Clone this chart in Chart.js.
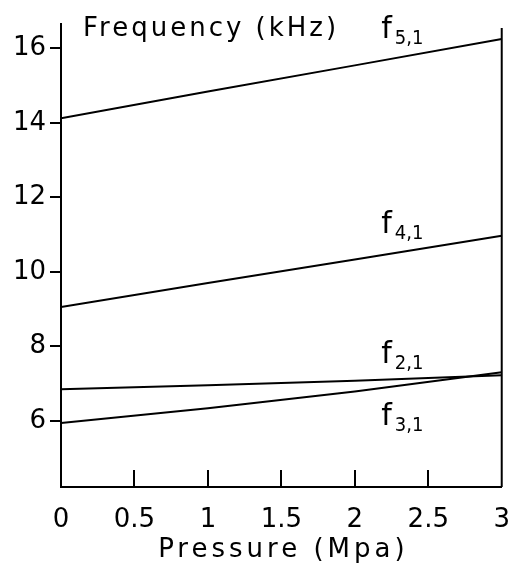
<!DOCTYPE html>
<html>
<head>
<meta charset="utf-8">
<script src="https://cdn.jsdelivr.net/npm/chart.js@4"></script>
<style>
  html, body { margin: 0; padding: 0; background: #fff; }
  #wrap { width: 528px; height: 571px; }
</style>
</head>
<body>
<div id="wrap"><canvas id="graph"></canvas></div>
<script>
// pressure (Mpa)
const pressure = [0, 1, 2, 3];
// frequencies (kHz)
const f21 = [6.85, 6.96, 7.08, 7.23];
const f31 = [5.95, 6.34, 6.79, 7.31];
const f41 = [9.06, 9.70, 10.33, 10.97];
const f51 = [14.12, 14.84, 15.54, 16.25];

const xTicks = [0, 0.5, 1, 1.5, 2, 2.5, 3];
const yTicks = [6, 8, 10, 12, 14, 16];

// curve labels: [main, subscript, x, y (baseline)]
const curveLabels = [
    ['f', '5,1', 2.18, 16.27],
    ['f', '4,1', 2.18, 11.04],
    ['f', '2,1', 2.18, 7.55],
    ['f', '3,1', 2.18, 5.90],
];

const FONT = 'DejaVu Sans';

function pts(ys) {
    return pressure.map((x, i) => ({x: x, y: ys[i]}));
}

function line(ys) {
    return {
        data: pts(ys),
        borderColor: 'black',
        borderWidth: 2,
        pointRadius: 0,
        tension: 0,
        fill: false
    };
}

const extras = {
    id: 'extras',
    afterDraw(chart) {
        const ctx = chart.ctx;
        const xs = chart.scales.x, ys = chart.scales.y;
        const a = chart.chartArea;
        ctx.save();
        ctx.strokeStyle = 'black';
        ctx.lineWidth = 2;
        // inner tick marks on the pressure axis
        xTicks.slice(1, -1).forEach(v => {
            const px = Math.round(xs.getPixelForValue(v));
            ctx.beginPath();
            ctx.moveTo(px, a.bottom);
            ctx.lineTo(px, a.bottom - 17);
            ctx.stroke();
        });
        // right frame line
        ctx.beginPath();
        ctx.moveTo(a.right, a.top + 4);
        ctx.lineTo(a.right, a.bottom);
        ctx.stroke();

        ctx.fillStyle = 'black';
        ctx.textBaseline = 'alphabetic';
        ctx.textAlign = 'left';
        ctx.font = '26px "' + FONT + '"';
        ctx.letterSpacing = '3px';
        ctx.fillText('Frequency (kHz)', a.left + 22, 36);

        // axis title with wide plotter-like spacing
        ctx.textBaseline = 'middle';
        ctx.textAlign = 'center';
        ctx.font = '26px "' + FONT + '"';
        ctx.letterSpacing = '4px';
        const cx = (xs.getPixelForValue(0) + xs.getPixelForValue(3)) / 2;
        ctx.fillText('Pressure (Mpa)', cx + 2, 550);
        ctx.letterSpacing = '0px';

        ctx.textAlign = 'left';
        ctx.textBaseline = 'alphabetic';
        curveLabels.forEach(l => {
            const px = xs.getPixelForValue(l[2]);
            const py = ys.getPixelForValue(l[3]);
            ctx.font = '30px "' + FONT + '"';
            ctx.fillText(l[0], px, py);
            const w = ctx.measureText(l[0]).width;
            ctx.font = '20px "DejaVu Sans Condensed"';
            ctx.fillText(l[1], px + w + 3, py + 6);
        });
        ctx.restore();
    }
};

new Chart(document.getElementById('graph'), {
    type: 'line',
    data: {
        datasets: [line(f51), line(f41), line(f21), line(f31)]
    },
    options: {
        responsive: true,
        maintainAspectRatio: false,
        animation: false,
        layout: { padding: { left: 0, top: 24, right: 13, bottom: 0 } },
        plugins: { legend: { display: false }, tooltip: { enabled: false } },
        scales: {
            x: {
                type: 'linear',
                min: 0,
                max: 3,
                afterBuildTicks: s => { s.ticks = xTicks.map(v => ({value: v})); },
                afterFit: s => { s.height = 84; },
                grid: { display: false, drawTicks: false },
                border: { display: true, color: 'black', width: 2 },
                ticks: {
                    color: 'black',
                    padding: 18,
                    maxRotation: 0,
                    font: { family: FONT, size: 26 },
                    callback: v => String(v)
                }
            },
            y: {
                min: 4.23,
                max: 16.65,
                afterBuildTicks: s => { s.ticks = yTicks.map(v => ({value: v})); },
                afterFit: s => { s.width = 61; },
                grid: {
                    display: true,
                    drawOnChartArea: false,
                    drawTicks: true,
                    tickLength: 11,
                    color: 'black',
                    lineWidth: 2
                },
                border: { display: true, color: 'black', width: 2 },
                ticks: {
                    color: 'black',
                    padding: 4,
                    font: { family: FONT, size: 26 }
                }
            }
        }
    },
    plugins: [extras]
});
</script>
</body>
</html>
